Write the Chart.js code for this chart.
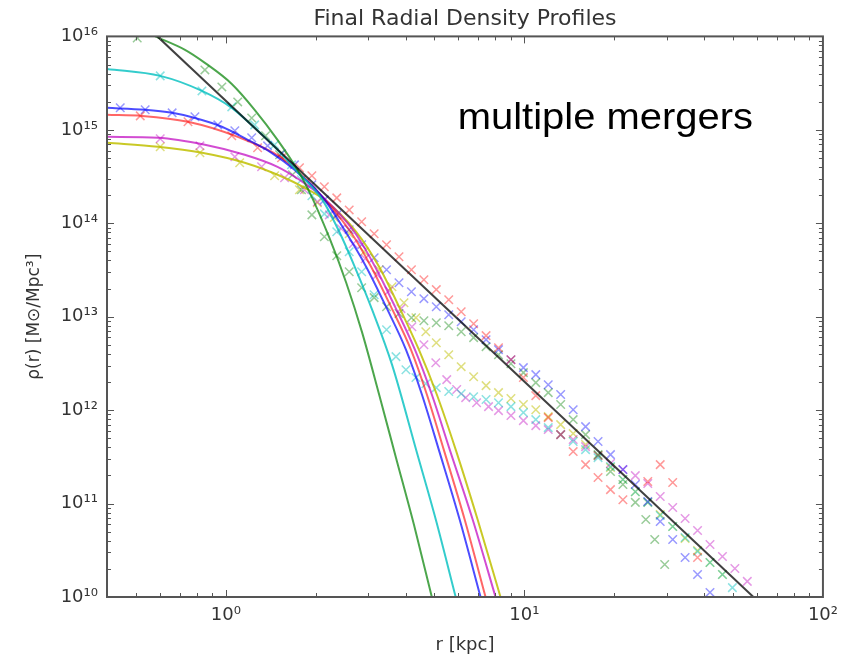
<!DOCTYPE html>
<html>
<head>
<meta charset="utf-8">
<title>Final Radial Density Profiles</title>
<script src="https://cdn.jsdelivr.net/npm/chart.js@4.4.1/dist/chart.umd.min.js"></script>
<style>
  html, body { margin: 0; padding: 0; background: #fff; }
  #wrap { width: 846px; height: 659px; }
</style>
</head>
<body>
<div id="wrap"><canvas id="profiles" width="846" height="659"></canvas></div>
<script>
// Axis ticks and labels
const xMajorTicks = [1, 10, 100];
const xTickLabels = ["10\u2070", "10\u00b9", "10\u00b2"];
const yMajorTicks = [1e10, 1e11, 1e12, 1e13, 1e14, 1e15, 1e16];
const yTickLabels = ["10\u00b9\u2070", "10\u00b9\u00b9", "10\u00b9\u00b2", "10\u00b9\u00b3", "10\u00b9\u2074", "10\u00b9\u2075", "10\u00b9\u2076"];

// Fitted profiles: radius [kpc] and density
const greenFitR = [0.58, 0.73, 0.851, 1.047, 1.249, 1.49, 1.738, 1.905, 2.222, 2.531, 2.862, 3.262, 3.715, 4.266, 4.898];
const greenFitRho = [1.0e16, 7.18e15, 5.21e15, 3.1e15, 1.64e15, 7.82e14, 3.73e14, 2.17e14, 7.0e13, 2.31e13, 6.75e12, 1.47e12, 3.1e11, 5.96e10, 1.0e10];
const cyanFitR = [0.4, 0.603, 0.832, 1.047, 1.249, 1.49, 1.738, 2.106, 2.399, 2.712, 3.09, 3.603, 4.365, 5.05, 5.888];
const cyanFitRho = [4.49e15, 3.78e15, 2.61e15, 1.72e15, 1.05e15, 6.11e14, 3.56e14, 1.78e14, 8.11e13, 3.34e13, 1.19e13, 3.07e12, 3.52e11, 6.75e10, 1.0e10];
const blueFitR = [0.4, 0.537, 0.661, 0.788, 0.97, 1.184, 1.423, 1.698, 2.106, 2.531, 2.951, 3.44, 4.012, 4.537, 5.168, 6.07, 7.133];
const blueFitRho = [1.72e15, 1.64e15, 1.52e15, 1.34e15, 1.08e15, 7.82e14, 5.68e14, 3.73e14, 1.92e14, 7.91e13, 3.43e13, 1.28e13, 4.44e12, 1.47e12, 3.78e11, 6.75e10, 1.0e10];
const redFitR = [0.4, 0.525, 0.747, 1.096, 1.537, 1.834, 2.106, 2.63, 3.066, 3.574, 4.169, 4.714, 5.37, 6.31, 7.413];
const redFitRho = [1.45e15, 1.41e15, 1.22e15, 8.41e14, 5.02e14, 3.07e14, 1.92e14, 7.91e13, 3.43e13, 1.28e13, 4.44e12, 1.47e12, 3.78e11, 6.75e10, 1.0e10];
const magentaFitR = [0.4, 0.593, 0.851, 1.157, 1.49, 1.765, 2.106, 2.692, 3.162, 3.687, 4.299, 4.898, 5.623, 6.711, 8.006];
const magentaFitRho = [8.41e14, 8.21e14, 6.92e14, 5.41e14, 4.02e14, 2.92e14, 1.92e14, 8.11e13, 3.43e13, 1.28e13, 4.44e12, 1.47e12, 3.78e11, 6.75e10, 1.0e10];
const yellowFitR = [0.4, 0.593, 0.832, 1.157, 1.573, 1.834, 2.138, 2.733, 3.262, 3.802, 4.433, 5.09, 5.888, 6.972, 8.318];
const yellowFitRho = [7.26e14, 6.58e14, 5.68e14, 4.44e14, 3.07e14, 2.4e14, 1.78e14, 8.11e13, 3.43e13, 1.28e13, 4.44e12, 1.47e12, 3.78e11, 6.75e10, 1.0e10];
// r^-3 reference line
const powerLawR = [0.59, 58.5];
const powerLawRho = [1.0e16, 1.0e10];

// Measured profiles (x markers)
const redPtsR = [0.517, 0.747, 1.047, 1.278, 1.537, 1.765, 1.942, 2.138, 2.353, 2.59, 2.851, 3.139, 3.454, 3.802, 4.185, 4.607, 5.07, 5.58, 6.143, 6.761, 7.442, 8.191, 9.016, 9.924, 10.92, 12.02, 13.23, 14.57, 16.03, 17.65, 19.43, 21.38, 25.9, 28.51, 31.39, 38.02];
const redPtsRho = [1.41e15, 1.22e15, 8.63e14, 6.42e14, 5.02e14, 3.92e14, 3.22e14, 2.46e14, 1.87e14, 1.39e14, 1.04e14, 7.72e13, 5.89e13, 4.38e13, 3.18e13, 2.49e13, 1.95e13, 1.52e13, 1.13e13, 8.42e12, 6.27e12, 4.66e12, 3.47e12, 2.23e12, 1.43e12, 8.31e11, 5.47e11, 3.6e11, 2.61e11, 1.9e11, 1.41e11, 1.1e11, 1.72e11, 2.61e11, 1.68e11, 2.65e10];
const bluePtsR = [0.443, 0.537, 0.661, 0.788, 0.94, 1.072, 1.221, 1.38, 1.537, 1.698, 1.942, 2.138, 2.353, 2.59, 2.851, 3.139, 3.454, 3.802, 4.185, 4.607, 5.07, 5.58, 6.143, 6.761, 7.442, 8.191, 9.016, 9.924, 10.92, 12.02, 13.23, 14.57, 16.03, 17.65, 19.43, 21.38, 23.53, 25.9, 28.51, 31.39, 34.54, 38.02, 41.85];
const bluePtsRho = [1.72e15, 1.64e15, 1.52e15, 1.38e15, 1.13e15, 9.76e14, 8.21e14, 6.74e14, 5.54e14, 4.22e14, 2.58e14, 1.78e14, 1.23e14, 8.52e13, 5.89e13, 4.28e13, 3.18e13, 2.31e13, 1.85e13, 1.56e13, 1.28e13, 1.05e13, 8.84e12, 7.26e12, 5.68e12, 4.44e12, 3.47e12, 2.85e12, 2.4e12, 1.87e12, 1.47e12, 1.01e12, 6.66e11, 4.61e11, 3.34e11, 2.31e11, 1.6e11, 1.05e11, 6.42e10, 4.12e10, 2.65e10, 1.74e10, 1.12e10];
const greenPtsR = [0.505, 0.851, 0.97, 1.096, 1.221, 1.359, 1.514, 1.672, 1.792, 1.942, 2.138, 2.353, 2.59, 2.851, 3.139, 3.454, 3.802, 4.185, 4.607, 5.07, 5.58, 6.143, 6.761, 7.442, 8.191, 9.016, 9.924, 10.92, 12.02, 13.23, 14.57, 16.03, 17.65, 19.43, 21.38, 23.53, 25.51, 27.33, 29.51];
const greenPtsRho = [9.63e15, 4.38e15, 2.88e15, 1.99e15, 1.34e15, 8.63e14, 5.4e14, 3.3e14, 2.28e14, 1.23e14, 7.17e13, 4.49e13, 3.03e13, 2.04e13, 1.6e13, 1.28e13, 1.08e13, 9.76e12, 9.06e12, 8.63e12, 8.01e12, 6.91e12, 5.97e12, 4.78e12, 3.92e12, 3.14e12, 2.52e12, 1.97e12, 1.54e12, 1.15e12, 7.92e11, 5.47e11, 3.34e11, 2.2e11, 1.6e11, 1.03e11, 6.75e10, 4.12e10, 2.23e10];
const cyanPtsR = [0.603, 0.832, 1.047, 1.249, 1.457, 1.66, 1.792, 1.942, 2.138, 2.353, 2.59, 2.851, 3.139, 3.454, 3.715, 4.012, 4.333, 4.677, 5.07, 5.58, 6.143, 6.761, 7.442, 8.191, 9.016, 9.924, 10.92, 12.02, 13.23, 14.57, 16.03, 17.65, 19.43, 21.38, 23.53, 25.9, 28.51, 31.39, 34.54, 38.02, 41.85, 46.07, 49.74];
const cyanPtsRho = [3.78e15, 2.61e15, 1.76e15, 1.13e15, 6.91e14, 4.22e14, 2.92e14, 1.97e14, 1.26e14, 8.11e13, 4.96e13, 3.03e13, 1.72e13, 7.26e12, 3.74e12, 2.71e12, 2.23e12, 1.92e12, 1.74e12, 1.58e12, 1.5e12, 1.39e12, 1.3e12, 1.2e12, 1.09e12, 9.41e11, 7.92e11, 6.5e11, 5.47e11, 4.61e11, 3.78e11, 3.1e11, 2.49e11, 1.81e11, 1.34e11, 1.03e11, 7.44e10, 5.68e10, 4.33e10, 3.07e10, 2.34e10, 1.74e10, 1.26e10];
const magentaPtsR = [0.603, 0.819, 1.072, 1.318, 1.573, 1.834, 2.026, 2.222, 2.435, 2.671, 2.929, 3.212, 3.522, 3.861, 4.201, 4.607, 5.05, 5.495, 5.934, 6.359, 6.918, 7.586, 8.191, 9.016, 9.924, 10.92, 12.02, 13.23, 14.57, 16.03, 17.65, 19.43, 21.38, 23.53, 25.9, 28.51, 31.39, 34.54, 38.02, 41.85, 46.07, 50.7, 55.8];
const magentaPtsRho = [8.01e14, 6.74e14, 5.14e14, 4.02e14, 3.07e14, 2.28e14, 1.7e14, 1.23e14, 8.74e13, 6.04e13, 4.17e13, 2.81e13, 1.9e13, 1.22e13, 7.82e12, 5.02e12, 3.22e12, 2.12e12, 1.66e12, 1.36e12, 1.2e12, 1.09e12, 9.88e11, 8.74e11, 7.72e11, 6.83e11, 6.19e11, 5.47e11, 4.84e11, 4.07e11, 3.26e11, 2.68e11, 2.31e11, 1.99e11, 1.64e11, 1.19e11, 9.06e10, 6.91e10, 5.14e10, 3.64e10, 2.71e10, 2.02e10, 1.47e10];
const yellowPtsR = [0.603, 0.819, 1.113, 1.457, 1.765, 2.026, 2.308, 2.59, 2.906, 3.262, 3.603, 3.951, 4.333, 4.677, 5.07, 5.58, 6.143, 6.761, 7.442, 8.191, 9.016, 9.924, 10.92, 12.02, 13.23, 14.57, 16.03, 17.65, 19.43, 21.38, 23.53, 25.9, 28.51, 31.39, 34.54, 38.02, 41.85, 46.07];
const yellowPtsRho = [6.58e14, 5.68e14, 4.44e14, 3.22e14, 2.28e14, 1.66e14, 1.15e14, 7.72e13, 4.96e13, 3.18e13, 2.09e13, 1.41e13, 9.76e12, 6.91e12, 5.27e12, 3.92e12, 2.92e12, 2.28e12, 1.83e12, 1.54e12, 1.33e12, 1.15e12, 1.01e12, 8.52e11, 7.0e11, 5.61e11, 4.28e11, 3.26e11, 2.43e11, 1.81e11, 1.34e11, 1.03e11, 7.63e10, 5.68e10, 4.23e10, 3.14e10, 2.34e10, 1.74e10];

// Text label inside the plot, anchored in data units
const noteText = "multiple mergers";
const noteR = 5.98;
const noteRho = 1.03e15;

const textColor = "#333";
const frameColor = "#555";

function toPoints(rs, rhos) {
  return rs.map((r, i) => ({ x: r, y: rhos[i] }));
}

function fitLine(rs, rhos, color) {
  return {
    data: toPoints(rs, rhos),
    showLine: true,
    borderColor: color,
    borderWidth: 2,
    pointRadius: 0,
    cubicInterpolationMode: "monotone",
    order: 0,
  };
}

function markers(rs, rhos, color) {
  return {
    data: toPoints(rs, rhos),
    showLine: false,
    pointStyle: "crossRot",
    pointRadius: 6,
    borderColor: color,
    backgroundColor: color,
    borderWidth: 1.5,
    order: 1,
  };
}

// Inward major/minor ticks on all four sides, plus the frame
const frameTicks = {
  id: "frameTicks",
  afterDraw(chart) {
    const { ctx, chartArea: a } = chart;
    const xs = chart.scales.x;
    const ys = chart.scales.y;
    ctx.save();
    ctx.strokeStyle = frameColor;
    ctx.lineWidth = 1;
    const seg = (x0, y0, x1, y1) => {
      ctx.beginPath();
      ctx.moveTo(x0, y0);
      ctx.lineTo(x1, y1);
      ctx.stroke();
    };
    for (let e = -1; e <= 2; e++) {
      for (let m = 1; m < 10; m++) {
        const v = m * Math.pow(10, e);
        if (v <= xs.min || v >= xs.max) continue;
        const px = Math.round(xs.getPixelForValue(v)) + 0.5;
        const len = m === 1 ? 7 : 4;
        seg(px, a.bottom, px, a.bottom - len);
        seg(px, a.top, px, a.top + len);
      }
    }
    for (let e = 10; e <= 16; e++) {
      for (let m = 1; m < 10; m++) {
        const v = m * Math.pow(10, e);
        if (v <= ys.min || v >= ys.max) continue;
        const py = Math.round(ys.getPixelForValue(v)) + 0.5;
        const len = m === 1 ? 7 : 4;
        seg(a.left, py, a.left + len, py);
        seg(a.right, py, a.right - len, py);
      }
    }
    ctx.lineWidth = 2;
    ctx.strokeRect(a.left, a.top, a.right - a.left, a.bottom - a.top);
    ctx.restore();
  },
};

const noteLabel = {
  id: "noteLabel",
  afterDraw(chart) {
    const { ctx } = chart;
    const px = chart.scales.x.getPixelForValue(noteR);
    const py = chart.scales.y.getPixelForValue(noteRho);
    ctx.save();
    ctx.translate(px, py);
    ctx.scale(1.08, 1);
    ctx.font = "37px 'Liberation Sans', Arial, sans-serif";
    ctx.fillStyle = "#000";
    ctx.textAlign = "left";
    ctx.textBaseline = "alphabetic";
    ctx.fillText(noteText, 0, 0);
    ctx.restore();
  },
};

const tickFont = { family: "'DejaVu Sans', sans-serif", size: 18 };

new Chart(document.getElementById("profiles"), {
  type: "scatter",
  data: {
    datasets: [
      {
        data: toPoints(powerLawR, powerLawRho),
        showLine: true,
        borderColor: "rgba(0, 0, 0, 0.75)",
        borderWidth: 2,
        pointRadius: 0,
        order: -1,
      },
      fitLine(greenFitR, greenFitRho, "rgba(0, 128, 0, 0.7)"),
      fitLine(cyanFitR, cyanFitRho, "rgba(0, 191, 191, 0.8)"),
      fitLine(blueFitR, blueFitRho, "rgba(0, 0, 255, 0.7)"),
      fitLine(redFitR, redFitRho, "rgba(255, 0, 0, 0.6)"),
      fitLine(magentaFitR, magentaFitRho, "rgba(191, 0, 191, 0.7)"),
      fitLine(yellowFitR, yellowFitRho, "rgba(191, 191, 0, 0.85)"),
      markers(redPtsR, redPtsRho, "rgba(255, 0, 0, 0.4)"),
      markers(bluePtsR, bluePtsRho, "rgba(0, 0, 255, 0.4)"),
      markers(greenPtsR, greenPtsRho, "rgba(0, 128, 0, 0.4)"),
      markers(cyanPtsR, cyanPtsRho, "rgba(0, 191, 191, 0.45)"),
      markers(magentaPtsR, magentaPtsRho, "rgba(191, 0, 191, 0.4)"),
      markers(yellowPtsR, yellowPtsRho, "rgba(191, 191, 0, 0.5)"),
    ],
  },
  options: {
    responsive: false,
    animation: false,
    layout: { padding: { left: 0, right: 19, top: 0, bottom: 0 } },
    plugins: {
      legend: { display: false },
      tooltip: { enabled: false },
      title: {
        display: true,
        fullSize: false,
        text: "Final Radial Density Profiles",
        color: textColor,
        font: { family: "'DejaVu Sans', sans-serif", size: 22, weight: "normal" },
        padding: { top: 6, bottom: 4 },
      },
    },
    scales: {
      x: {
        type: "logarithmic",
        position: "bottom",
        min: 0.4,
        max: 100,
        grid: { display: false, drawTicks: false },
        border: { display: false },
        afterBuildTicks: (s) => {
          s.ticks = xMajorTicks.map((v) => ({ value: v }));
        },
        afterFit: (s) => {
          s.height = 62;
        },
        ticks: {
          autoSkip: false,
          maxRotation: 0,
          padding: 8,
          color: textColor,
          font: tickFont,
          callback: (v, i) => xTickLabels[i],
        },
        title: {
          display: true,
          text: "r [kpc]",
          color: textColor,
          font: { family: "'DejaVu Sans', sans-serif", size: 18 },
          padding: { top: 0, bottom: 3 },
        },
      },
      y: {
        type: "logarithmic",
        position: "left",
        min: 1e10,
        max: 1e16,
        grid: { display: false, drawTicks: false },
        border: { display: false },
        afterBuildTicks: (s) => {
          s.ticks = yMajorTicks.map((v) => ({ value: v }));
        },
        afterFit: (s) => {
          s.width = 107;
        },
        ticks: {
          autoSkip: false,
          padding: 9,
          color: textColor,
          font: tickFont,
          callback: (v, i) => yTickLabels[i],
        },
        title: {
          display: true,
          text: "\u03c1(r) [M\u2299/Mpc\u00b3]",
          color: textColor,
          font: { family: "'DejaVu Sans', sans-serif", size: 17 },
          padding: { top: 24, bottom: 0 },
        },
      },
    },
  },
  plugins: [frameTicks, noteLabel],
});
</script>
</body>
</html>
